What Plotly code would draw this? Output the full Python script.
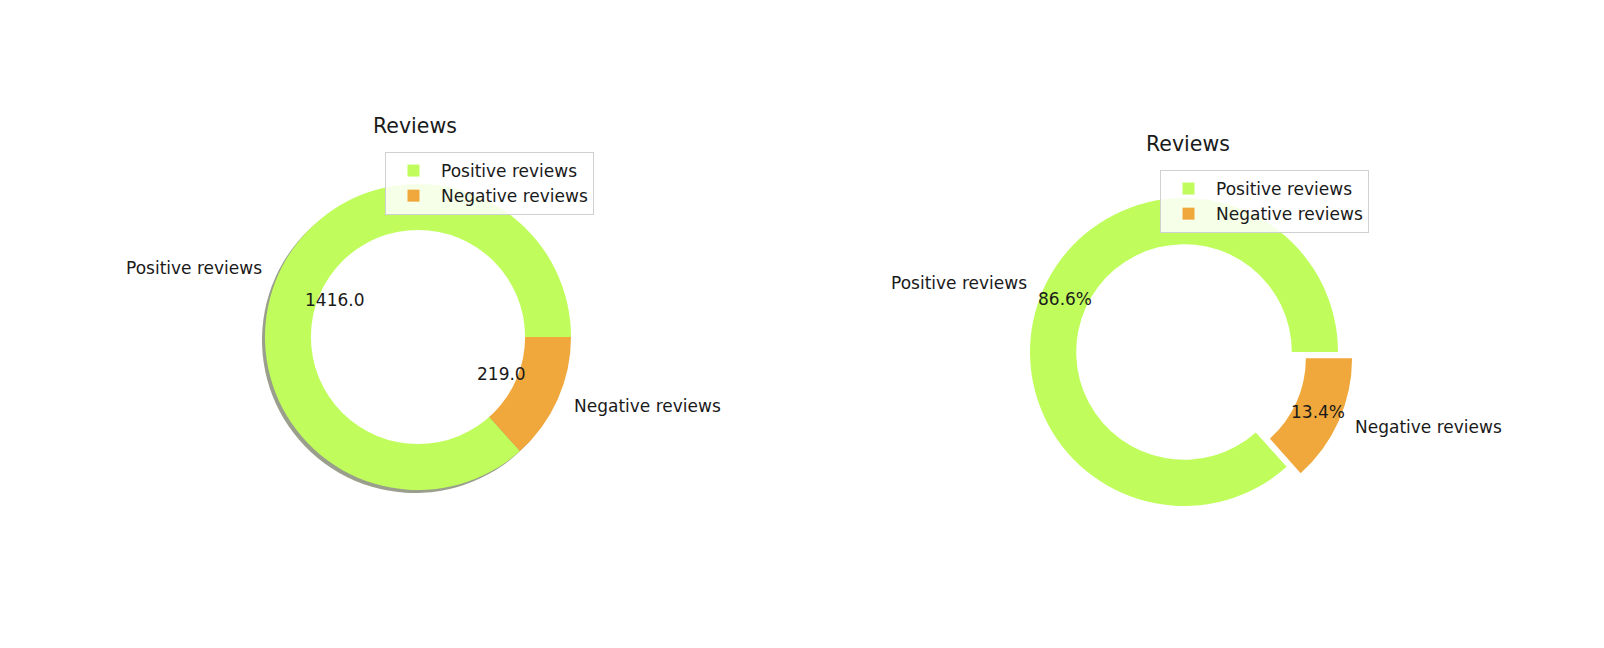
import math
import plotly.graph_objects as go

# ---- data ----
categories = ["Positive reviews", "Negative reviews"]
review_counts = [1416, 219]
chart_title = "Reviews"

colors = ["#c0fd5c", "#f0a83c"]
shadow_colors = ["rgba(70,80,45,0.55)", "rgba(80,60,30,0.55)"]

W, H = 1604, 648
FONT = "DejaVu Sans"

total = sum(review_counts)
# first slice starts at 3 o'clock and runs counter-clockwise (matplotlib style)
ROT = 90 - 360.0 * review_counts[0] / total


def px_domain(cx, cy, half):
    return dict(x=[(cx - half) / W, (cx + half) / W],
                y=[1 - (cy + half) / H, 1 - (cy - half) / H])


def slice_mids(values):
    tot = sum(values)
    start = 0.0
    mids = []
    for v in values:
        span = 360.0 * v / tot
        mids.append(start + span / 2)
        start += span
    return mids


def ann(x, y, text, xanchor="center", size=17):
    return dict(x=x / W, y=1 - y / H, xref="paper", yref="paper", text=text,
                showarrow=False, xanchor=xanchor, yanchor="middle",
                font=dict(family=FONT, size=size, color="#1a1a1a"))


fig = go.Figure()

# ---- left donut (values, with shadow; centre covered by a white circle) ----
L_cx, L_cy, L_r = 418, 337, 153
fig.add_trace(go.Pie(labels=categories, values=review_counts, sort=False,
                     direction="clockwise", rotation=ROT,
                     marker=dict(colors=shadow_colors), textinfo="none",
                     hoverinfo="skip", showlegend=False,
                     domain=px_domain(L_cx - 3, L_cy + 3, L_r)))
fig.add_trace(go.Pie(labels=categories, values=review_counts, sort=False,
                     direction="clockwise", rotation=ROT,
                     marker=dict(colors=colors), textinfo="none",
                     legend="legend", domain=px_domain(L_cx, L_cy, L_r)))

# ---- right donut (percentages, exploded) ----
R_cx, R_cy, R_r = 1184, 352, 154
pulls = [0, 0.1]
right_labels = [c + "\u200b" for c in categories]  # distinct keys for 2nd legend
fig.add_trace(go.Pie(labels=right_labels, values=review_counts, sort=False,
                     direction="clockwise", rotation=ROT, hole=0.7,
                     pull=pulls, marker=dict(colors=colors), textinfo="none",
                     legend="legend2",
                     domain=px_domain(R_cx, R_cy, R_r * (1 + max(pulls)))))

annotations = []
mids = slice_mids(review_counts)

# left labels
for lab, v, m in zip(categories, review_counts, mids):
    a = math.radians(m)
    c, s = math.cos(a), math.sin(a)
    annotations.append(ann(L_cx + 1.1 * L_r * c, L_cy - 1.1 * L_r * s, lab,
                           xanchor="left" if c > 0 else "right"))
    annotations.append(ann(L_cx + 0.6 * L_r * c, L_cy - 0.6 * L_r * s, f"{float(v):.1f}"))

# right labels
for lab, v, m, p in zip(categories, review_counts, mids, pulls):
    a = math.radians(m)
    c, s = math.cos(a), math.sin(a)
    ox, oy = R_cx + p * R_r * c, R_cy - p * R_r * s
    annotations.append(ann(ox + 1.1 * R_r * c, oy - 1.1 * R_r * s, lab,
                           xanchor="left" if c > 0 else "right"))
    annotations.append(ann(ox + 0.85 * R_r * c, oy - 0.85 * R_r * s,
                           f"{100 * v / total:.1f}%"))

# titles
annotations.append(ann(415, 126, chart_title, size=20.5))
annotations.append(ann(1188, 144, chart_title, size=20.5))

# white centre circle for the left donut
hr = 0.7 * L_r
shapes = [dict(type="circle", xref="paper", yref="paper", layer="above",
               x0=(L_cx - hr) / W, x1=(L_cx + hr) / W,
               y0=1 - (L_cy + hr) / H, y1=1 - (L_cy - hr) / H,
               fillcolor="white", line=dict(width=0))]

legend_style = dict(font=dict(family=FONT, size=17, color="#1a1a1a"),
                    bgcolor="rgba(255,255,255,0.85)", bordercolor="#d0d0d0",
                    borderwidth=1, xanchor="left", yanchor="top",
                    tracegroupgap=0, itemwidth=45, itemclick=False)

fig.update_layout(
    width=W, height=H,
    margin=dict(l=0, r=0, t=0, b=0),
    paper_bgcolor="white", plot_bgcolor="white",
    annotations=annotations, shapes=shapes,
    legend=dict(x=385 / W, y=1 - 152 / H, **legend_style),
    legend2=dict(x=1160 / W, y=1 - 170 / H, **legend_style),
)

fig.write_html("out.html")
